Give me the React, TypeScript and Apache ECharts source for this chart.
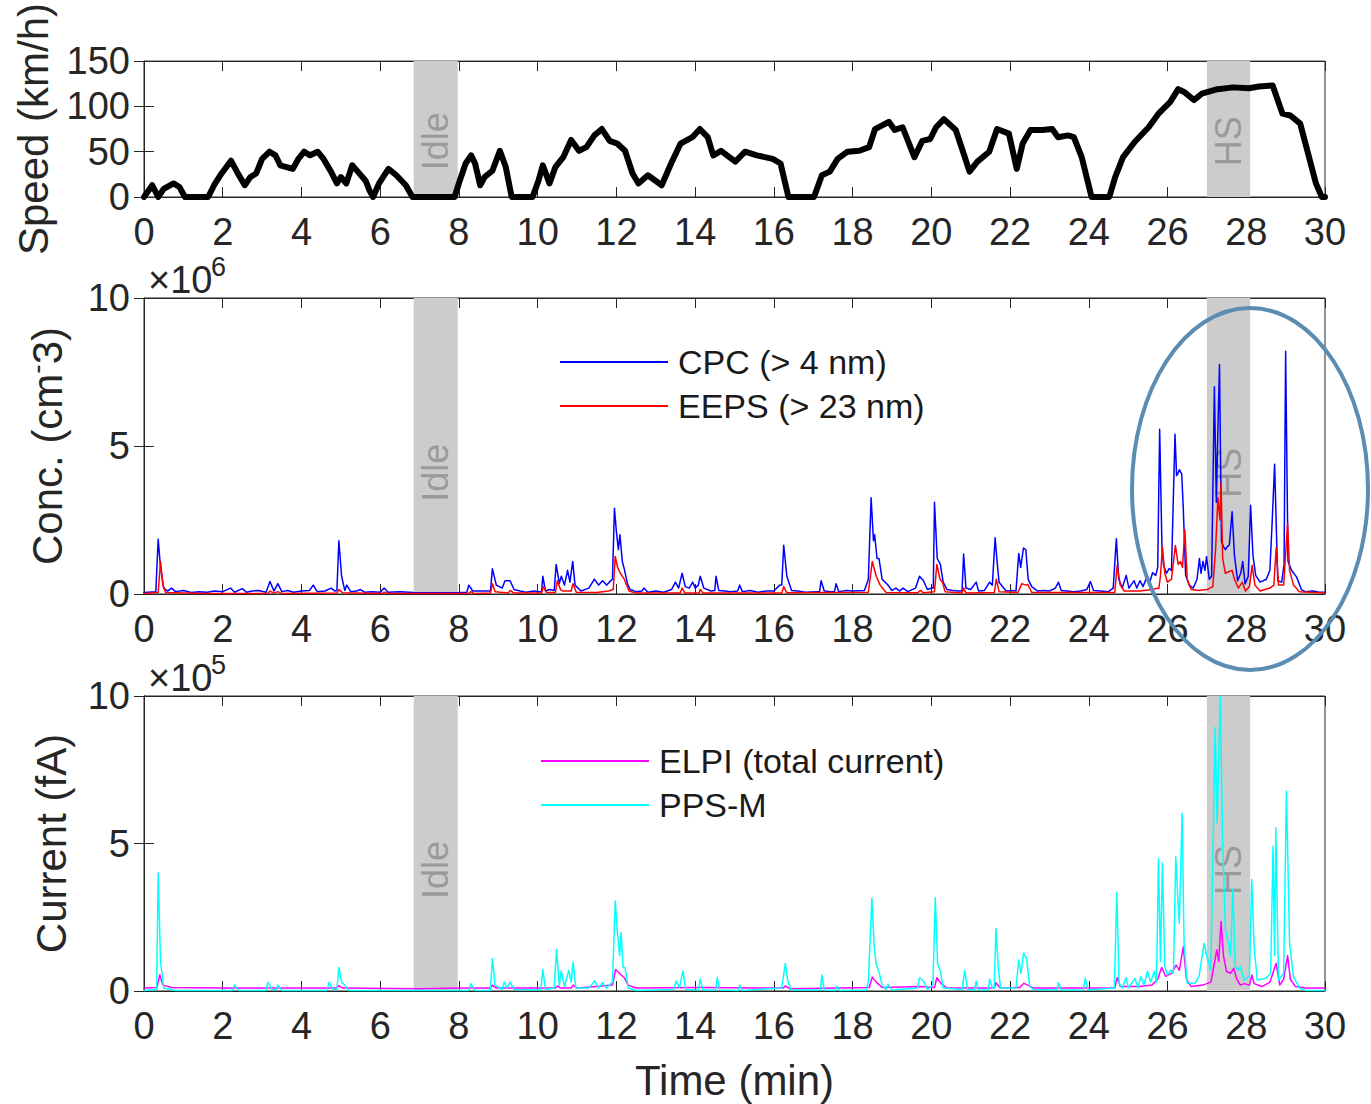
import React, { useEffect, useRef } from "react";
import * as echarts from "echarts";

const FONT = '"Liberation Sans Narrow", "Liberation Sans", Arial, sans-serif';
const TXT = "#262626";

// x ticks (minutes)
const xMin = 0;
const xMax = 30;
const xInterval = 2;

// shaded periods
const bandIdle = [6.85, 7.97];
const bandHS = [27.0, 28.1];
const bandLabels = ["Idle", "HS"];

// vehicle speed (km/h) [time min, speed]
const speed: number[][] = [
  [0, 0], [0.21, 13], [0.36, 0], [0.5, 9], [0.75, 15], [0.9, 11], [1.04, 0], [1.63, 0],
  [1.78, 13], [1.97, 26], [2.21, 40], [2.36, 28], [2.56, 13], [2.7, 22], [2.85, 26], [3.0, 42],
  [3.19, 50], [3.34, 46], [3.46, 35], [3.78, 31], [3.92, 42], [4.07, 50], [4.22, 46], [4.41, 50],
  [4.56, 42], [4.75, 28], [4.9, 15], [5.0, 22], [5.14, 15], [5.29, 35], [5.43, 28], [5.63, 18],
  [5.73, 7], [5.82, 0], [5.97, 15], [6.21, 31], [6.41, 24], [6.65, 13], [6.82, 0], [7.89, 0],
  [8.02, 18], [8.17, 37], [8.31, 46], [8.41, 37], [8.54, 13], [8.65, 22], [8.85, 29], [9.04, 51],
  [9.19, 33], [9.34, 0], [9.87, 0], [10.02, 18], [10.13, 35], [10.3, 15], [10.45, 33], [10.65, 44],
  [10.85, 63], [11.05, 51], [11.24, 55], [11.44, 68], [11.63, 75], [11.83, 62], [12.02, 59], [12.22, 51],
  [12.41, 26], [12.56, 15], [12.8, 24], [13.15, 13], [13.39, 37], [13.63, 59], [13.93, 66], [14.12, 75],
  [14.32, 66], [14.46, 46], [14.66, 51], [15.02, 39], [15.27, 50], [15.57, 46], [15.97, 42], [16.17, 37],
  [16.37, 0], [17.02, 0], [17.22, 24], [17.42, 28], [17.62, 42], [17.87, 50], [18.17, 51], [18.42, 55],
  [18.57, 75], [18.92, 83], [19.07, 74], [19.27, 77], [19.57, 44], [19.77, 62], [19.97, 64], [20.12, 77],
  [20.32, 86], [20.62, 74], [20.82, 48], [20.97, 28], [21.17, 39], [21.47, 50], [21.67, 75], [21.97, 70],
  [22.17, 31], [22.32, 59], [22.52, 74], [22.82, 74], [23.07, 75], [23.22, 66], [23.47, 68], [23.62, 66],
  [23.82, 44], [24.07, 0], [24.52, 0], [24.67, 22], [24.87, 44], [25.17, 61], [25.52, 77], [25.77, 92],
  [26.07, 105], [26.27, 119], [26.42, 116], [26.67, 107], [26.87, 114], [27.27, 119], [27.67, 121],
  [28.07, 120], [28.32, 122], [28.67, 123], [28.92, 92], [29.12, 90], [29.37, 81], [29.57, 48],
  [29.77, 15], [29.92, 0], [30, 0],
];

// CPC number concentration (x1e6 cm^-3)
const cpc: number[][] = [
  [0, 0.05], [0.3, 0.08], [0.36, 1.85], [0.42, 0.9], [0.5, 0.2], [0.6, 0.1], [0.7, 0.2], [0.8, 0.08],
  [1.0, 0.12], [1.2, 0.05], [1.4, 0.08], [1.6, 0.06], [1.8, 0.1], [2.0, 0.08], [2.2, 0.2], [2.3, 0.06], [2.5, 0.18], [2.6, 0.06], [2.75, 0.1], [2.9, 0.12],
  [3.1, 0.06], [3.2, 0.42], [3.3, 0.1], [3.4, 0.35], [3.5, 0.08], [3.65, 0.12], [3.8, 0.06], [4.0, 0.1], [4.2, 0.12], [4.3, 0.3],
  [4.4, 0.08], [4.6, 0.1], [4.75, 0.2], [4.85, 0.1], [4.9, 0.12], [4.95, 1.8], [5.02, 0.6], [5.1, 0.12], [5.15, 0.3], [5.25, 0.08],
  [5.4, 0.1], [5.5, 0.15], [5.6, 0.06], [5.8, 0.08], [6.0, 0.06], [6.1, 0.2], [6.2, 0.06], [6.5, 0.08], [6.85, 0.05], [7.5, 0.04], [8.0, 0.05],
  [8.2, 0.06], [8.25, 0.3], [8.35, 0.1], [8.6, 0.1], [8.8, 0.1], [8.85, 0.85], [8.95, 0.3], [9.1, 0.2], [9.17, 0.45], [9.3, 0.45],
  [9.4, 0.15], [9.55, 0.1], [9.7, 0.06], [9.9, 0.1], [10.05, 0.08], [10.1, 0.08], [10.13, 0.6], [10.2, 0.1], [10.3, 0.15], [10.42, 0.12], [10.47, 1.0], [10.55, 0.35],
  [10.6, 0.6], [10.68, 0.3], [10.76, 0.8], [10.82, 0.4], [10.89, 1.1], [10.95, 0.3], [11.1, 0.1], [11.3, 0.2],
  [11.44, 0.5], [11.55, 0.3], [11.65, 0.45], [11.75, 0.3], [11.82, 0.4], [11.9, 0.5], [11.95, 2.9], [12.0, 2.1],
  [12.05, 1.5], [12.09, 2.0], [12.15, 1.1], [12.2, 0.85], [12.28, 0.35], [12.35, 0.15], [12.5, 0.08], [12.65, 0.1], [12.7, 0.2],
  [12.8, 0.06], [13.0, 0.1], [13.2, 0.06], [13.4, 0.15], [13.5, 0.4], [13.58, 0.2], [13.67, 0.7], [13.75, 0.25], [13.85, 0.2], [13.94, 0.4],
  [14.0, 0.2], [14.08, 0.3], [14.13, 0.6], [14.22, 0.2], [14.4, 0.1], [14.5, 0.12], [14.53, 0.6], [14.6, 0.12], [14.75, 0.1], [14.9, 0.08],
  [15.08, 0.1], [15.13, 0.3], [15.2, 0.08], [15.4, 0.12], [15.6, 0.06], [15.8, 0.1], [16.0, 0.1], [16.15, 0.3], [16.2, 0.3], [16.25, 1.65], [16.33, 0.6], [16.45, 0.12],
  [16.6, 0.1], [16.8, 0.06], [17.1, 0.08], [17.16, 0.08], [17.2, 0.45], [17.28, 0.1], [17.45, 0.08], [17.54, 0.08], [17.58, 0.35], [17.65, 0.08], [17.85, 0.12], [18.0, 0.1], [18.3, 0.12],
  [18.4, 0.5], [18.47, 3.25], [18.53, 1.8], [18.56, 2.0], [18.62, 1.2], [18.67, 1.2], [18.75, 0.5], [18.9, 0.3],
  [19.0, 0.12], [19.1, 0.2], [19.2, 0.1], [19.28, 0.2], [19.4, 0.08], [19.6, 0.2], [19.7, 0.6], [19.8, 0.45], [19.9, 0.15], [20.0, 0.2], [20.05, 0.2],
  [20.08, 3.1], [20.15, 1.2], [20.23, 1.0], [20.3, 0.4], [20.4, 0.15], [20.55, 0.12], [20.7, 0.1], [20.78, 0.1], [20.82, 1.35], [20.88, 0.2],
  [21.0, 0.15], [21.14, 0.4], [21.2, 0.1], [21.35, 0.12], [21.48, 0.4], [21.55, 0.3], [21.62, 1.9], [21.67, 1.1], [21.72, 0.4],
  [21.9, 0.1], [22.05, 0.12], [22.15, 0.1], [22.22, 1.37], [22.27, 0.9], [22.34, 1.55], [22.4, 1.5], [22.46, 0.5], [22.55, 0.25],
  [22.7, 0.1], [22.85, 0.12], [23.0, 0.1], [23.15, 0.2], [23.23, 0.4], [23.3, 0.12], [23.45, 0.1], [23.6, 0.08], [23.8, 0.1], [23.95, 0.15], [24.04, 0.42],
  [24.12, 0.12], [24.3, 0.1], [24.5, 0.08], [24.62, 0.2], [24.7, 1.87], [24.76, 0.5], [24.85, 0.2], [24.95, 0.63], [25.02, 0.2],
  [25.15, 0.45], [25.22, 0.2], [25.3, 0.45], [25.38, 0.25], [25.45, 0.5], [25.55, 0.4], [25.62, 0.72], [25.7, 0.63],
  [25.75, 0.9], [25.8, 5.57], [25.86, 1.5], [25.9, 0.97], [25.97, 0.7], [26.04, 0.86], [26.1, 0.8], [26.19, 5.4],
  [26.23, 4.0], [26.26, 4.06], [26.3, 4.2], [26.36, 4.06], [26.4, 2.9], [26.46, 0.63], [26.55, 0.3], [26.65, 0.2],
  [26.75, 0.5], [26.81, 1.2], [26.85, 0.7], [26.9, 1.1], [26.95, 0.8], [26.99, 1.26], [27.06, 0.5], [27.12, 0.6],
  [27.19, 7.0], [27.24, 3.1], [27.27, 5.0], [27.32, 7.75], [27.37, 1.77], [27.42, 1.6], [27.47, 1.5], [27.52, 1.6],
  [27.57, 1.66], [27.64, 2.78], [27.7, 1.3], [27.78, 0.45], [27.86, 0.7], [27.91, 1.1], [27.97, 0.34], [28.05, 0.6],
  [28.11, 3.0], [28.17, 1.3], [28.24, 0.63], [28.35, 0.4], [28.51, 0.5], [28.6, 0.8], [28.66, 2.5], [28.72, 4.38],
  [28.8, 0.45], [28.9, 0.4], [28.96, 1.0], [29.0, 8.2], [29.06, 1.1], [29.15, 0.8], [29.28, 0.57], [29.4, 0.15],
  [29.5, 0.08], [29.7, 0.1], [29.85, 0.06], [30, 0.06],
];

// EEPS number concentration (x1e6 cm^-3)
const eeps: number[][] = [
  [0, 0.02], [0.36, 0.05], [0.42, 1.1], [0.48, 0.3], [0.55, 0.05], [1.5, 0.02], [3.15, 0.02], [3.2, 0.1],
  [3.3, 0.03], [3.4, 0.08], [3.5, 0.02], [4.9, 0.03], [4.95, 0.15], [5.05, 0.04], [6.05, 0.02], [6.1, 0.06],
  [6.2, 0.02], [7.5, 0.02], [8.25, 0.02], [8.3, 0.08], [8.38, 0.02], [8.8, 0.03], [8.85, 0.35], [8.92, 0.08],
  [9.25, 0.03], [9.3, 0.12], [9.4, 0.03], [10.1, 0.03], [10.15, 0.25], [10.22, 0.05], [10.45, 0.05], [10.5, 0.45],
  [10.58, 0.15], [10.65, 0.1], [10.85, 0.1], [10.9, 0.35], [10.98, 0.06], [11.5, 0.05], [11.8, 0.1], [11.92, 0.15],
  [11.97, 1.27], [12.03, 0.9], [12.1, 0.7], [12.2, 0.5], [12.32, 0.1], [12.5, 0.03], [13.62, 0.03], [13.67, 0.2],
  [13.74, 0.03], [14.1, 0.03], [14.13, 0.15], [14.2, 0.03], [16.2, 0.03], [16.25, 0.25], [16.33, 0.04], [17.2, 0.05],
  [18.4, 0.06], [18.5, 1.1], [18.6, 0.6], [18.7, 0.3], [18.85, 0.05], [19.65, 0.04], [19.72, 0.12], [19.8, 0.04],
  [20.08, 0.08], [20.14, 1.0], [20.22, 0.5], [20.28, 0.4], [20.35, 0.08], [20.78, 0.03], [20.82, 0.2], [20.88, 0.03],
  [21.6, 0.05], [21.65, 0.5], [21.72, 0.08], [22.2, 0.05], [22.3, 0.35], [22.4, 0.3], [22.45, 0.32], [22.55, 0.05],
  [23.3, 0.05], [24.0, 0.05], [24.66, 0.05], [24.72, 0.97], [24.8, 0.3], [24.9, 0.1], [25.3, 0.1], [25.6, 0.15],
  [25.78, 0.2], [25.82, 0.6], [25.87, 1.6], [25.93, 0.7], [26.0, 0.4], [26.1, 0.5], [26.2, 1.64], [26.27, 1.0],
  [26.33, 1.1], [26.38, 0.9], [26.44, 2.17], [26.5, 0.5], [26.6, 0.15], [26.8, 0.12], [27.0, 0.15], [27.15, 0.25],
  [27.22, 1.5], [27.28, 3.26], [27.33, 2.5], [27.36, 3.77], [27.4, 1.2], [27.47, 0.7], [27.55, 0.75], [27.64, 0.8],
  [27.7, 0.5], [27.8, 0.2], [27.9, 0.4], [27.98, 0.1], [28.08, 0.25], [28.15, 0.97], [28.22, 0.3], [28.35, 0.1],
  [28.6, 0.2], [28.7, 0.3], [28.76, 1.55], [28.82, 0.3], [28.95, 0.3], [29.05, 2.4], [29.1, 0.8], [29.2, 0.3],
  [29.35, 0.08], [30, 0.03],
];

// ELPI total current (x1e5 fA)
const elpi: number[][] = [
  [0, 0.1], [0.33, 0.12], [0.4, 0.55], [0.48, 0.2], [0.7, 0.12], [2, 0.1], [4.9, 0.1], [4.95, 0.18],
  [5.05, 0.1], [7, 0.08], [8, 0.1], [8.8, 0.1], [8.85, 0.2], [8.95, 0.1], [10.45, 0.1], [10.5, 0.17],
  [10.58, 0.1], [10.85, 0.1], [10.9, 0.2], [11.0, 0.1], [11.5, 0.15], [11.9, 0.2], [11.98, 0.73], [12.1, 0.57],
  [12.2, 0.45], [12.3, 0.2], [12.5, 0.1], [14.1, 0.12], [16.24, 0.1], [16.29, 0.17], [16.4, 0.08], [18.42, 0.12],
  [18.5, 0.47], [18.6, 0.3], [18.75, 0.12], [19.7, 0.15], [20.08, 0.12], [20.14, 0.45], [20.25, 0.25], [20.4, 0.1],
  [21.6, 0.1], [21.64, 0.28], [21.75, 0.1], [22.25, 0.12], [22.35, 0.26], [22.45, 0.2], [22.6, 0.1], [24.66, 0.1],
  [24.72, 0.46], [24.8, 0.15], [25.3, 0.15], [25.6, 0.2], [25.75, 0.4], [25.85, 0.8], [25.95, 0.5], [26.1, 0.6],
  [26.22, 0.88], [26.3, 0.7], [26.4, 1.5], [26.48, 0.4], [26.6, 0.15], [26.9, 0.2], [27.1, 0.3], [27.2, 1.0],
  [27.25, 1.4], [27.3, 1.0], [27.36, 2.36], [27.42, 1.2], [27.5, 0.66], [27.6, 0.6], [27.68, 0.77], [27.76, 0.4],
  [27.85, 0.2], [27.95, 0.25], [28.08, 0.2], [28.14, 0.54], [28.2, 0.25], [28.4, 0.15], [28.6, 0.3], [28.76, 0.94],
  [28.85, 0.2], [28.95, 0.4], [29.05, 1.2], [29.12, 0.4], [29.25, 0.15], [29.5, 0.1], [30, 0.1],
];

// PPS-M current (x1e5 fA)
const ppsm: number[][] = [
  [0, 0.02], [0.32, 0.05], [0.36, 4.0], [0.42, 1.0], [0.5, 0.1], [0.8, 0.02], [2.25, 0.02], [2.3, 0.2],
  [2.4, 0.02], [3.1, 0.02], [3.15, 0.3], [3.25, 0.05], [3.35, 0.03], [3.4, 0.2], [3.5, 0.02], [4.65, 0.02],
  [4.7, 0.3], [4.8, 0.05], [4.9, 0.05], [4.95, 0.8], [5.02, 0.3], [5.1, 0.2], [5.2, 0.02], [8.25, 0.02],
  [8.3, 0.25], [8.4, 0.02], [8.8, 0.02], [8.85, 1.1], [8.92, 0.2], [9.1, 0.05], [9.15, 0.3], [9.22, 0.1],
  [9.3, 0.3], [9.4, 0.05], [10.08, 0.03], [10.13, 0.73], [10.2, 0.05], [10.42, 0.1], [10.48, 1.41], [10.55, 0.2],
  [10.6, 0.68], [10.68, 0.15], [10.79, 0.7], [10.85, 0.3], [10.9, 0.98], [10.97, 0.1], [11.3, 0.1], [11.45, 0.34],
  [11.55, 0.1], [11.65, 0.28], [11.75, 0.1], [11.9, 0.3], [11.97, 3.05], [12.03, 1.92], [12.08, 1.2], [12.12, 1.98],
  [12.17, 0.8], [12.22, 0.8], [12.3, 0.1], [12.5, 0.02], [13.45, 0.05], [13.52, 0.34], [13.6, 0.1], [13.69, 0.68],
  [13.76, 0.05], [14.08, 0.03], [14.13, 0.4], [14.2, 0.03], [14.52, 0.03], [14.56, 0.45], [14.63, 0.03], [15.1, 0.02],
  [15.13, 0.2], [15.2, 0.02], [16.2, 0.1], [16.29, 0.93], [16.36, 0.3], [16.45, 0.03], [17.18, 0.03], [17.22, 0.54],
  [17.28, 0.03], [17.56, 0.02], [17.6, 0.17], [17.66, 0.02], [18.35, 0.03], [18.4, 0.3], [18.49, 3.14], [18.55, 1.47],
  [18.6, 0.9], [18.68, 0.6], [18.75, 0.2], [18.85, 0.05], [18.9, 0.23], [19.0, 0.03], [19.65, 0.1], [19.7, 0.45],
  [19.8, 0.34], [19.9, 0.05], [20.04, 0.2], [20.1, 3.16], [20.16, 0.9], [20.23, 0.68], [20.3, 0.1], [20.78, 0.05],
  [20.85, 0.7], [20.92, 0.05], [21.1, 0.03], [21.14, 0.34], [21.2, 0.03], [21.44, 0.03], [21.48, 0.4], [21.55, 0.1],
  [21.6, 0.1], [21.64, 2.12], [21.7, 0.8], [21.76, 0.1], [22.15, 0.1], [22.22, 1.05], [22.28, 0.6], [22.34, 1.28],
  [22.42, 1.1], [22.5, 0.15], [22.6, 0.05], [23.18, 0.03], [23.23, 0.28], [23.3, 0.03], [23.86, 0.03], [23.91, 0.43],
  [23.98, 0.03], [24.65, 0.1], [24.71, 3.34], [24.77, 0.26], [24.85, 0.1], [24.95, 0.46], [25.0, 0.1], [25.17, 0.43],
  [25.25, 0.1], [25.32, 0.49], [25.4, 0.2], [25.49, 0.66], [25.57, 0.3], [25.66, 0.66], [25.72, 0.3], [25.77, 4.48],
  [25.82, 1.0], [25.87, 4.34], [25.93, 0.83], [26.0, 0.54], [26.08, 0.71], [26.15, 0.6], [26.21, 4.55], [26.26, 3.2],
  [26.3, 2.3], [26.37, 6.02], [26.42, 1.62], [26.5, 0.26], [26.7, 0.26], [26.8, 0.5], [26.85, 0.94], [26.93, 1.62],
  [27.0, 1.17], [27.1, 0.71], [27.21, 8.93], [27.26, 5.7], [27.34, 10.0], [27.4, 5.14], [27.47, 2.07], [27.55, 1.62],
  [27.6, 1.2], [27.66, 3.46], [27.72, 0.83], [27.8, 0.7], [27.84, 0.83], [27.95, 0.37], [28.08, 0.5], [28.14, 3.78],
  [28.2, 1.5], [28.28, 0.37], [28.5, 0.43], [28.62, 0.6], [28.68, 4.91], [28.72, 1.2], [28.75, 5.53], [28.82, 0.37],
  [28.95, 0.6], [29.02, 6.78], [29.1, 1.62], [29.2, 0.49], [29.35, 0.1], [29.5, 0.02], [30, 0.02],
];

// axes
const speedTicks = { min: 0, max: 150, interval: 50 };
const concTicks = { min: 0, max: 10, interval: 5 };
const currTicks = { min: 0, max: 10, interval: 5 };

const seriesNames = {
  speed: "Speed",
  cpc: "CPC (> 4 nm)",
  eeps: "EEPS (> 23 nm)",
  elpi: "ELPI (total current)",
  ppsm: "PPS-M",
};

// axis multipliers shown above middle and bottom panels
const multipliers = [
  { base: "×10", exp: "6" },
  { base: "×10", exp: "5" },
];

export default function App() {
  const ref = useRef<HTMLDivElement>(null);

  useEffect(() => {
    if (!ref.current) return;
    const chart = echarts.init(ref.current, null, { renderer: "svg" });

    const grids = [
      { left: 144, top: 60, width: 1181, height: 137 },
      { left: 144, top: 298, width: 1181, height: 296 },
      { left: 144, top: 696, width: 1181, height: 295 },
    ];
    const yTicks = [speedTicks, concTicks, currTicks];
    const yNames = ["Speed (km/h)", "{a|Conc. (cm}{s|-}{a|3)}", "Current (fA)"];
    const yGaps = [90, 72, 72];

    const tick = { show: true, inside: true, length: 10, lineStyle: { color: TXT, width: 1 } };
    const labelStyle = { color: TXT, fontSize: 38, fontFamily: FONT };

    const xAxes: any[] = [];
    const yAxes: any[] = [];
    for (let i = 0; i < 3; i++) {
      xAxes.push({
        type: "value", gridIndex: i, min: xMin, max: xMax, interval: xInterval, position: "bottom",
        axisLine: { show: true, onZero: false, lineStyle: { color: TXT, width: 1 } },
        axisTick: tick, splitLine: { show: false },
        axisLabel: { ...labelStyle, margin: 16 },
        name: i === 2 ? "Time (min)" : "", nameLocation: "middle", nameGap: 68,
        nameTextStyle: { color: TXT, fontSize: 42, fontFamily: FONT },
      });
      yAxes.push({
        type: "value", gridIndex: i, min: yTicks[i].min, max: yTicks[i].max, interval: yTicks[i].interval,
        position: "left",
        axisLine: { show: true, lineStyle: { color: TXT, width: 1 } },
        axisTick: tick, splitLine: { show: false },
        axisLabel: { ...labelStyle, margin: 14 },
        name: yNames[i], nameLocation: "middle", nameGap: yGaps[i], nameRotate: 90,
        nameTextStyle: {
          color: TXT, fontSize: 42, fontFamily: FONT,
          rich: {
            a: { color: TXT, fontSize: 42, fontFamily: FONT },
            s: { color: TXT, fontSize: 28, fontFamily: FONT, padding: [0, 0, 22, 0] },
          },
        },
      });
    }
    for (let i = 0; i < 3; i++) {
      xAxes.push({
        type: "value", gridIndex: i, min: xMin, max: xMax, interval: xInterval, position: "top",
        axisLine: { show: true, onZero: false, lineStyle: { color: TXT, width: 1 } },
        axisTick: tick, axisLabel: { show: false }, splitLine: { show: false },
      });
      yAxes.push({
        type: "value", gridIndex: i, min: yTicks[i].min, max: yTicks[i].max, interval: yTicks[i].interval,
        position: "right",
        axisLine: { show: true, lineStyle: { color: TXT, width: 1 } },
        axisTick: tick, axisLabel: { show: false }, splitLine: { show: false },
      });
    }

    const bands = [bandIdle, bandHS];
    const bandSeries = [0, 1, 2].map((i) => ({
      type: "line", xAxisIndex: i, yAxisIndex: i, data: [], silent: true, z: 1,
      markArea: {
        silent: true,
        itemStyle: { color: "#cccccc" },
        label: {
          show: true, position: ["50%", "59%"], rotate: 90, align: "center", verticalAlign: "middle",
          color: "#9a9a9a", fontSize: 36, fontFamily: FONT,
        },
        data: bands.map((b, k) => [{ xAxis: b[0], name: bandLabels[k] }, { xAxis: b[1] }]),
      },
    }));

    const lineSeries = (name: string, data: number[][], idx: number, color: string, width: number) => ({
      type: "line", name, data, xAxisIndex: idx, yAxisIndex: idx, showSymbol: false, symbol: "none",
      z: 3, clip: true,
      lineStyle: { color, width, join: "round", cap: "round" },
      itemStyle: { color },
    });

    const legendBase = {
      orient: "vertical", icon: "rect", itemWidth: 108, itemHeight: 2, itemGap: 6, selectedMode: false,
      padding: 0,
      textStyle: { color: "#1a1a1a", fontSize: 34, fontFamily: FONT, lineHeight: 38, padding: [0, 0, 0, 5] },
    };

    const multGraphics: any[] = [];
    multipliers.forEach((m, k) => {
      const top = grids[k + 1].top;
      multGraphics.push({
        type: "text", left: 148, top: top - 37, z: 10,
        style: { text: m.base, fill: TXT, fontSize: 38, fontFamily: FONT },
      });
      multGraphics.push({
        type: "text", left: 211, top: top - 45, z: 10,
        style: { text: m.exp, fill: TXT, fontSize: 27, fontFamily: FONT },
      });
    });

    chart.setOption({
      animation: false,
      backgroundColor: "#ffffff",
      grid: grids.map((g) => ({ ...g, show: true, borderColor: TXT, borderWidth: 1, backgroundColor: "transparent" })),
      xAxis: xAxes,
      yAxis: yAxes,
      legend: [
        { ...legendBase, left: 560, top: 343, data: [seriesNames.cpc, seriesNames.eeps] },
        { ...legendBase, left: 541, top: 742, data: [seriesNames.elpi, seriesNames.ppsm] },
      ],
      series: [
        ...bandSeries,
        lineSeries(seriesNames.speed, speed, 0, "#000000", 6),
        lineSeries(seriesNames.cpc, cpc, 1, "#0000ff", 1.5),
        lineSeries(seriesNames.eeps, eeps, 1, "#ff0000", 1.5),
        lineSeries(seriesNames.elpi, elpi, 2, "#ff00ff", 1.5),
        lineSeries(seriesNames.ppsm, ppsm, 2, "#00ffff", 1.5),
      ],
      graphic: [
        ...multGraphics,
        {
          type: "ellipse", z: 20, silent: true,
          shape: { cx: 1250, cy: 489, rx: 118, ry: 181 },
          style: { fill: "none", stroke: "#5b8cb2", lineWidth: 4 },
        },
      ],
    });

    return () => chart.dispose();
  }, []);

  return (
    <div
      ref={ref}
      style={{ position: "absolute", left: 0, top: 0, width: 1371, height: 1104, background: "#fff" }}
    />
  );
}
